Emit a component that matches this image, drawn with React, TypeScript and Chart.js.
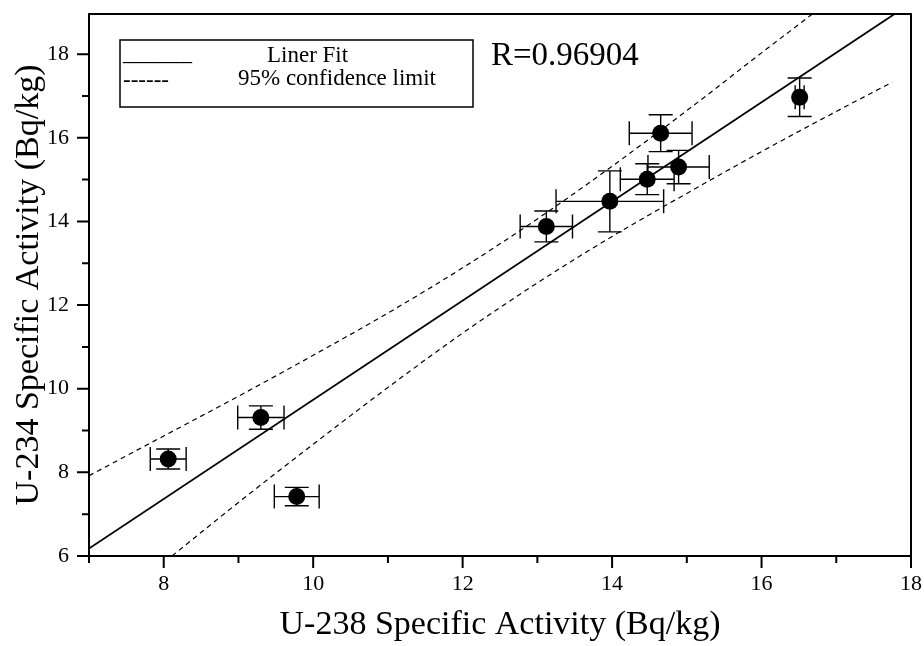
import React, { useEffect, useRef } from "react";
import { Chart, registerables } from "chart.js";

Chart.register(...registerables);

const FONT = "'Liberation Serif', 'Times New Roman', Times, serif";

// Measured points (U-238 vs U-234 specific activity, Bq/kg) with error bars
const u238 = [8.06, 9.3, 9.78, 13.12, 13.97, 14.47, 14.89, 14.65, 16.51];
const u234 = [8.32, 9.31, 7.42, 13.88, 14.48, 15.01, 15.3, 16.11, 16.97];
const u238Err = [0.24, 0.31, 0.3, 0.35, 0.72, 0.36, 0.41, 0.42, 0.06];
const u234Err = [0.24, 0.28, 0.22, 0.37, 0.73, 0.37, 0.4, 0.44, 0.46];

// Linear fit
const fitX = [7, 17.78];
const fitY = [6.18, 18.96];

// 95% confidence limits
const upperX = [7, 8, 9, 10, 11, 12, 13, 14, 15, 16, 16.68];
const upperY = [7.92, 8.87, 9.82, 10.8, 11.81, 12.89, 14.06, 15.32, 16.65, 18.03, 18.96];
const lowerX = [8.11, 9, 10, 11, 12, 13, 14, 15, 16, 17, 17.75];
const lowerY = [6.0, 7.28, 8.67, 10.03, 11.33, 12.53, 13.64, 14.67, 15.67, 16.63, 17.33];

// Axes
const xMajor = [8, 10, 12, 14, 16, 18];
const xMinor = [7, 9, 11, 13, 15, 17];
const yMajor = [6, 8, 10, 12, 14, 16, 18];
const yMinor = [7, 9, 11, 13, 15, 17];
const X_MIN = 7;
const X_MAX = 18;
const Y_MIN = 6;
const Y_MAX = 18.96;

const xTitle = "U-238 Specific Activity (Bq/kg)";
const yTitle = "U-234 Specific Activity (Bq/kg)";
const legendLine1 = "Liner Fit";
const legendLine2 = "95% confidence limit";
const rText = "R=0.96904";

const pts = (xs: number[], ys: number[]) => xs.map((x, i) => ({ x, y: ys[i] }));

const errorBarPlugin = {
  id: "errorBars",
  beforeDatasetsDraw(chart: any) {
    const ctx = chart.ctx;
    const xs = chart.scales.x;
    const ys = chart.scales.y;
    const cap = 12;
    ctx.save();
    ctx.strokeStyle = "#000";
    ctx.lineWidth = 1.4;
    u238.forEach((x, i) => {
      const y = u234[i];
      const px = xs.getPixelForValue(x);
      const py = ys.getPixelForValue(y);
      const pxl = xs.getPixelForValue(x - u238Err[i]);
      const pxr = xs.getPixelForValue(x + u238Err[i]);
      const pyt = ys.getPixelForValue(y + u234Err[i]);
      const pyb = ys.getPixelForValue(y - u234Err[i]);
      ctx.beginPath();
      ctx.moveTo(pxl, py);
      ctx.lineTo(pxr, py);
      ctx.moveTo(pxl, py - cap);
      ctx.lineTo(pxl, py + cap);
      ctx.moveTo(pxr, py - cap);
      ctx.lineTo(pxr, py + cap);
      ctx.moveTo(px, pyt);
      ctx.lineTo(px, pyb);
      ctx.moveTo(px - cap, pyt);
      ctx.lineTo(px + cap, pyt);
      ctx.moveTo(px - cap, pyb);
      ctx.lineTo(px + cap, pyb);
      ctx.stroke();
    });
    ctx.restore();
  },
};

const framePlugin = {
  id: "frame",
  afterDraw(chart: any) {
    const ctx = chart.ctx;
    const { left, right, top, bottom } = chart.chartArea;
    const xs = chart.scales.x;
    const ys = chart.scales.y;
    ctx.save();
    ctx.strokeStyle = "#000";
    ctx.lineWidth = 2;
    ctx.beginPath();
    ctx.moveTo(left - 1, top);
    ctx.lineTo(right, top);
    ctx.lineTo(right, bottom + 1);
    ctx.stroke();
    // tick marks
    ctx.beginPath();
    xMajor.forEach((v) => {
      const p = xs.getPixelForValue(v);
      ctx.moveTo(p, bottom);
      ctx.lineTo(p, bottom + 12);
    });
    xMinor.forEach((v) => {
      const p = xs.getPixelForValue(v);
      ctx.moveTo(p, bottom);
      ctx.lineTo(p, bottom + 7);
    });
    yMajor.forEach((v) => {
      const p = ys.getPixelForValue(v);
      ctx.moveTo(left, p);
      ctx.lineTo(left - 12, p);
    });
    yMinor.forEach((v) => {
      const p = ys.getPixelForValue(v);
      ctx.moveTo(left, p);
      ctx.lineTo(left - 7, p);
    });
    ctx.stroke();

    // legend box
    ctx.lineWidth = 1.5;
    ctx.strokeRect(120, 40, 353, 67);
    ctx.fillStyle = "#000";
    ctx.textBaseline = "alphabetic";
    ctx.textAlign = "left";
    ctx.font = `23px ${FONT}`;
    ctx.fillText("______", 123, 60);
    ctx.fillText(legendLine1, 267, 62);
    ctx.fillText("------", 123, 87);
    ctx.fillText(legendLine2, 238, 85);
    // R value
    ctx.font = `33px ${FONT}`;
    ctx.fillText(rText, 491, 65);
    ctx.restore();
  },
};

export default function App() {
  const ref = useRef<HTMLCanvasElement>(null);
  useEffect(() => {
    const chart = new Chart(ref.current as HTMLCanvasElement, {
      type: "scatter",
      data: {
        datasets: [
          {
            label: "Data",
            data: pts(u238, u234),
            backgroundColor: "#000",
            borderColor: "#000",
            pointRadius: 8.5,
            pointBorderWidth: 0,
            showLine: false,
          },
          {
            label: "Liner Fit",
            data: pts(fitX, fitY),
            showLine: true,
            borderColor: "#000",
            borderWidth: 1.8,
            pointRadius: 0,
            fill: false,
          },
          {
            label: "Upper 95%",
            data: pts(upperX, upperY),
            showLine: true,
            borderColor: "#000",
            borderWidth: 1.2,
            borderDash: [5, 4],
            pointRadius: 0,
            cubicInterpolationMode: "monotone",
            fill: false,
          },
          {
            label: "Lower 95%",
            data: pts(lowerX, lowerY),
            showLine: true,
            borderColor: "#000",
            borderWidth: 1.2,
            borderDash: [5, 4],
            pointRadius: 0,
            cubicInterpolationMode: "monotone",
            fill: false,
          },
        ],
      },
      options: {
        responsive: false,
        animation: false,
        devicePixelRatio: 1,
        layout: { padding: { top: 14, right: 13, left: 0, bottom: 0 } },
        plugins: {
          legend: { display: false },
          tooltip: { enabled: false },
        },
        scales: {
          x: {
            type: "linear",
            position: "bottom",
            min: X_MIN,
            max: X_MAX,
            afterBuildTicks: (s: any) => {
              s.ticks = xMajor.map((v) => ({ value: v }));
            },
            afterFit: (s: any) => {
              s.height = 90;
              s.paddingLeft = 0;
              s.paddingRight = 0;
            },
            ticks: {
              color: "#000",
              font: { family: FONT, size: 22 },
              padding: 3,
              maxRotation: 0,
              autoSkip: false,
              callback: (v: any) => String(v),
            },
            grid: {
              drawOnChartArea: false,
              tickLength: 12,
              tickColor: "rgba(0,0,0,0)",
            },
            border: { color: "#000", width: 2 },
            title: {
              display: true,
              text: xTitle,
              color: "#000",
              font: { family: FONT, size: 34 },
              padding: { top: 0, bottom: 1 },
            },
          },
          y: {
            type: "linear",
            position: "left",
            min: Y_MIN,
            max: Y_MAX,
            afterBuildTicks: (s: any) => {
              s.ticks = yMajor.map((v) => ({ value: v }));
            },
            afterFit: (s: any) => {
              s.width = 89;
              s.paddingTop = 0;
              s.paddingBottom = 0;
            },
            ticks: {
              color: "#000",
              font: { family: FONT, size: 22 },
              padding: 8,
              autoSkip: false,
              callback: (v: any) => String(v),
            },
            grid: {
              drawOnChartArea: false,
              tickLength: 12,
              tickColor: "rgba(0,0,0,0)",
            },
            border: { color: "#000", width: 2 },
            title: {
              display: true,
              text: yTitle,
              color: "#000",
              font: { family: FONT, size: 34 },
              padding: { top: 9, bottom: 0 },
            },
          },
        },
      },
      plugins: [errorBarPlugin, framePlugin],
    } as any);
    return () => chart.destroy();
  }, []);
  return (
    <div style={{ position: "absolute", left: 0, top: 0, width: 924, height: 646, background: "#fff" }}>
      <canvas ref={ref} width={924} height={646} style={{ display: "block", width: 924, height: 646 }} />
    </div>
  );
}
